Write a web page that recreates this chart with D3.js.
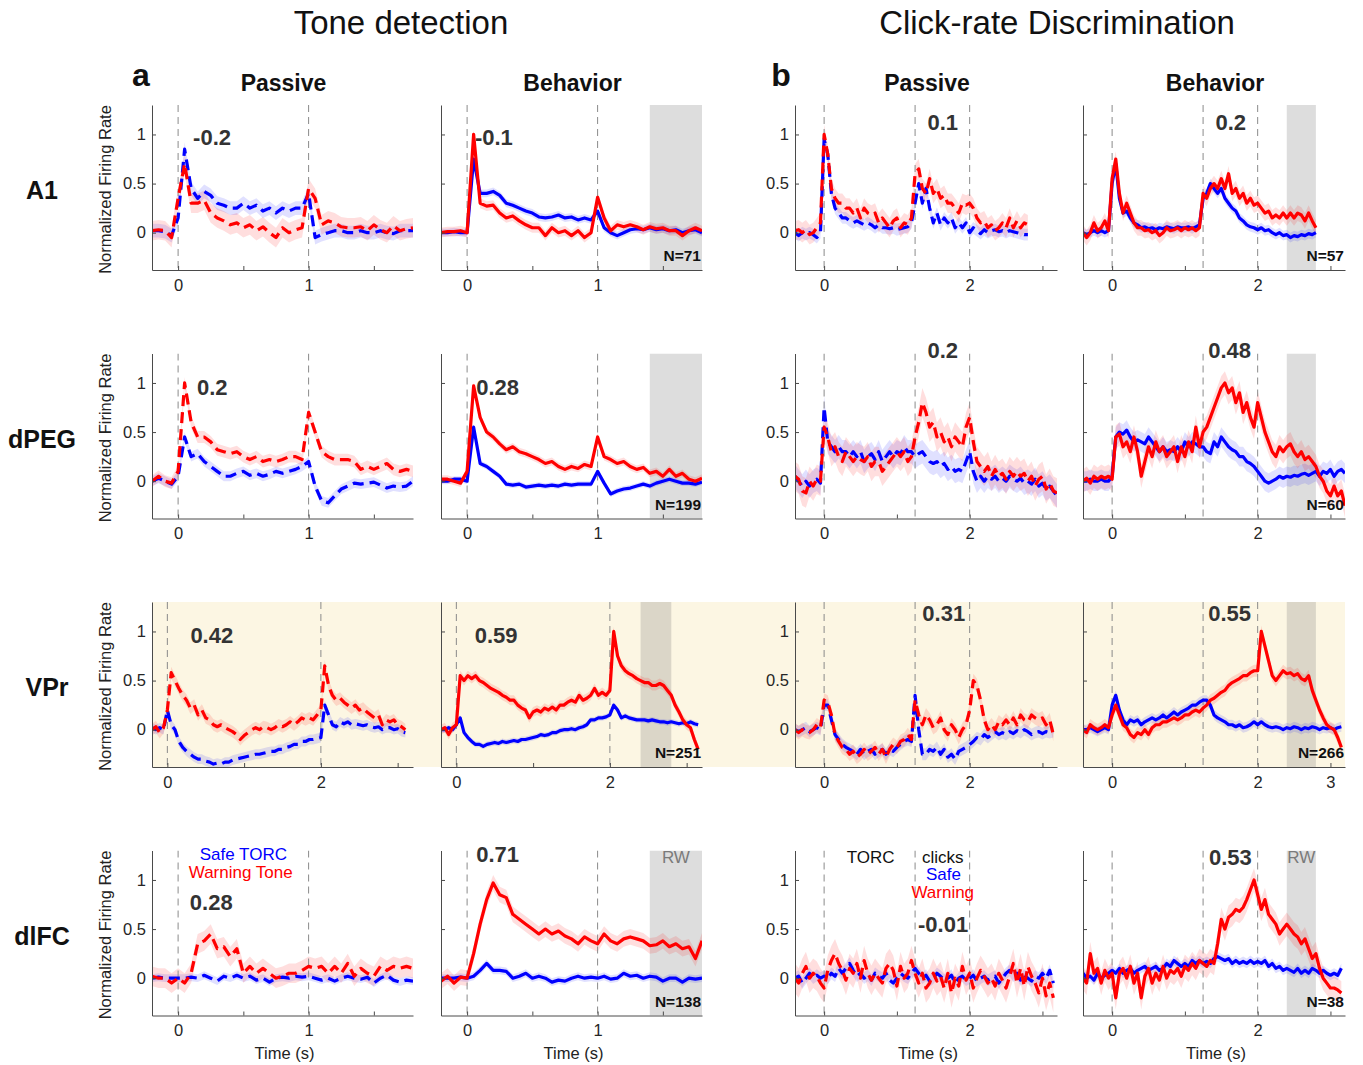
<!DOCTYPE html>
<html lang="en">
<head>
<meta charset="utf-8">
<title>Tone detection / Click-rate Discrimination</title>
<script src="https://cdn.jsdelivr.net/npm/d3@7/dist/d3.min.js"></script>
<style>
  body { margin: 0; background: #fff; }
  svg text { font-family: "Liberation Sans", Arial, Helvetica, sans-serif; }
</style>
</head>
<body>
<script>

// ---------------- data ----------------
var taskTitles = ["Tone detection", "Click-rate Discrimination"];
var panelLetters = ["a", "b"];
var areas = ["A1", "dPEG", "VPr", "dlFC"];
var conditions = ["Passive", "Behavior", "Passive", "Behavior"];
var indexValues = [
  ["-0.2", "-0.1", "0.1", "0.2"],
  ["0.2", "0.28", "0.2", "0.48"],
  ["0.42", "0.59", "0.31", "0.55"],
  ["0.28", "0.71", "-0.01", "0.53"]
];
var unitCounts = [["N=71", "N=57"], ["N=199", "N=60"], ["N=251", "N=266"], ["N=138", "N=38"]];

// time grid: first bin (s) per column, bin width 50 ms
var firstBin = [-0.2, -0.2, -0.4, -0.4];
var binWidth = 0.05;

// Tone detection, A1
var toneA1PassSafe = [0.02,0.02,0.01,-0.03,0.15,0.85,0.45,0.35,0.42,0.38,0.3,0.28,0.25,0.25,0.3,0.25,0.28,0.22,0.25,0.2,0.25,0.22,0.25,0.25,0.4,-0.05,-0.02,0.0,0.02,0.02,0.0,0.0,0.02,0.0,0.0,0.02,0.0,-0.01,0.02,0.02,0.02];
var toneA1PassWarn = [0.02,0.03,0.02,-0.05,0.35,0.7,0.3,0.3,0.33,0.2,0.15,0.12,0.08,0.1,0.05,0.08,0.02,0.06,0.0,-0.05,0.05,0.0,0.03,0.05,0.45,0.35,0.08,0.12,0.1,0.06,0.05,0.05,0.06,0.02,0.08,0.03,0.0,0.07,0.02,0.04,0.05];
var toneA1BehSafe = [0.0,0.0,0.01,0.0,0.0,0.75,0.4,0.4,0.42,0.38,0.3,0.28,0.25,0.22,0.2,0.16,0.15,0.16,0.18,0.15,0.16,0.13,0.15,0.13,0.22,0.05,0.0,-0.03,0.0,0.03,0.04,0.03,0.05,0.03,0.04,0.02,0.03,0.0,0.02,0.03,0.0];
var toneA1BehWarn = [0.0,0.01,0.01,0.02,0.0,1.0,0.3,0.27,0.28,0.2,0.15,0.17,0.12,0.08,0.05,0.05,-0.03,0.05,0.0,0.02,-0.03,0.02,-0.05,0.0,0.36,0.15,0.02,0.08,0.06,0.08,0.06,0.03,0.06,0.04,0.05,0.02,0.02,-0.03,0.02,0.05,0.02];

// Tone detection, dPEG
var toneDPEGPassSafe = [0.0,0.03,0.0,-0.03,0.05,0.45,0.25,0.28,0.2,0.15,0.1,0.05,0.05,0.08,0.1,0.06,0.08,0.05,0.07,0.1,0.08,0.1,0.12,0.15,0.2,-0.05,-0.2,-0.22,-0.15,-0.08,-0.05,-0.02,-0.03,-0.02,-0.01,-0.04,-0.07,-0.05,-0.06,-0.05,0.0];
var toneDPEGPassWarn = [0.0,0.05,0.0,-0.02,0.1,1.0,0.6,0.45,0.45,0.4,0.32,0.3,0.28,0.3,0.25,0.22,0.25,0.2,0.22,0.2,0.22,0.25,0.25,0.22,0.7,0.5,0.3,0.25,0.22,0.22,0.22,0.2,0.12,0.15,0.12,0.15,0.18,0.12,0.1,0.12,0.1];
var toneDPEGBehSafe = [0.0,0.0,0.02,0.02,0.0,0.55,0.18,0.15,0.1,0.05,-0.03,-0.04,-0.03,-0.06,-0.05,-0.04,-0.05,-0.04,-0.05,-0.03,-0.04,-0.03,-0.03,-0.03,0.1,-0.02,-0.13,-0.1,-0.08,-0.07,-0.05,-0.03,-0.05,-0.02,0.0,0.02,0.0,-0.02,-0.02,-0.03,-0.01];
var toneDPEGBehWarn = [0.02,0.02,0.0,-0.02,0.1,0.97,0.65,0.5,0.45,0.38,0.32,0.35,0.3,0.28,0.25,0.22,0.18,0.2,0.15,0.12,0.15,0.13,0.17,0.15,0.45,0.25,0.22,0.18,0.2,0.15,0.12,0.14,0.08,0.1,0.05,0.12,0.05,0.08,0.02,0.0,0.03];

// Tone detection, VPr (longer trials)
var toneVPrPassSafe = [0.02,0.0,0.02,0.0,0.2,0.05,0.0,-0.12,-0.18,-0.22,-0.25,-0.28,-0.3,-0.3,-0.32,-0.33,-0.35,-0.34,-0.35,-0.33,-0.33,-0.31,-0.3,-0.29,-0.28,-0.27,-0.26,-0.25,-0.25,-0.24,-0.23,-0.22,-0.22,-0.2,-0.2,-0.18,-0.17,-0.15,-0.15,-0.12,-0.12,-0.1,-0.1,-0.09,-0.08,0.25,0.15,0.05,0.03,0.08,0.06,0.08,0.05,0.06,0.05,0.04,0.05,0.03,0.02,0.03,0.0,0.02,0.02,0.0,0.01,-0.02,-0.03];
var toneVPrPassWarn = [0.0,0.03,-0.03,0.02,0.2,0.58,0.5,0.42,0.35,0.3,0.22,0.25,0.15,0.2,0.12,0.1,0.05,0.03,0.05,0.02,0.0,-0.02,-0.05,-0.1,-0.06,-0.03,0.0,0.02,0.0,0.03,0.02,0.0,0.02,0.05,0.03,0.05,0.08,0.05,0.08,0.12,0.1,0.12,0.1,0.15,0.2,0.65,0.45,0.35,0.3,0.32,0.28,0.25,0.22,0.25,0.2,0.22,0.18,0.15,0.12,0.15,0.05,0.1,0.08,0.1,0.05,0.03,0.0];
var toneVPrBehSafe = [0.0,0.0,0.02,0.0,0.05,0.12,-0.03,-0.08,-0.12,-0.15,-0.15,-0.17,-0.15,-0.14,-0.13,-0.14,-0.12,-0.13,-0.12,-0.11,-0.12,-0.1,-0.1,-0.09,-0.08,-0.07,-0.05,-0.06,-0.05,-0.03,-0.03,-0.01,0.0,0.0,0.01,0.0,0.02,0.03,0.05,0.1,0.1,0.12,0.12,0.13,0.15,0.25,0.2,0.12,0.14,0.12,0.11,0.1,0.1,0.1,0.09,0.1,0.09,0.08,0.08,0.07,0.08,0.07,0.06,0.07,0.06,0.08,0.06,0.05];
var toneVPrBehWarn = [0.0,0.02,-0.05,0.02,0.05,0.55,0.5,0.55,0.52,0.55,0.5,0.48,0.45,0.42,0.4,0.38,0.35,0.33,0.3,0.3,0.25,0.22,0.2,0.12,0.18,0.2,0.18,0.22,0.2,0.23,0.2,0.25,0.25,0.28,0.3,0.28,0.35,0.3,0.32,0.35,0.42,0.35,0.38,0.35,0.4,1.0,0.75,0.65,0.6,0.57,0.55,0.52,0.5,0.48,0.48,0.45,0.45,0.47,0.45,0.4,0.35,0.25,0.18,0.1,0.05,0.02,-0.1,-0.2];

// Tone detection, dlFC
var toneDLFCPassSafe = [0.0,0.01,0.0,0.0,0.0,0.0,0.01,0.0,0.03,0.0,-0.03,0.02,0.0,0.03,0.0,0.02,-0.02,0.0,-0.04,0.0,0.01,0.0,0.02,0.01,0.02,0.0,-0.02,0.0,-0.03,0.0,0.02,0.0,-0.01,0.01,-0.05,0.0,0.03,-0.02,-0.04,-0.02,-0.03];
var toneDLFCPassWarn = [0.02,0.0,0.0,-0.05,0.0,-0.05,0.05,0.35,0.38,0.45,0.3,0.32,0.22,0.3,0.05,0.12,0.05,0.1,0.05,0.0,0.02,0.05,0.05,0.08,0.12,0.1,0.12,0.05,0.12,0.05,0.15,0.02,0.1,0.05,0.02,0.12,0.08,0.12,0.1,0.12,0.1];
var toneDLFCBehSafe = [0.0,0.0,0.0,0.01,0.0,0.02,0.08,0.15,0.08,0.08,0.07,0.0,0.02,0.05,0.0,0.02,0.0,-0.04,-0.02,-0.03,0.0,0.02,0.0,0.01,0.0,0.02,-0.01,0.0,0.05,0.02,0.03,0.0,0.02,0.01,-0.03,0.0,0.0,-0.04,0.0,-0.01,0.0];
var toneDLFCBehWarn = [-0.03,0.02,-0.05,0.01,0.0,0.25,0.55,0.8,0.97,0.85,0.82,0.65,0.6,0.55,0.5,0.45,0.5,0.45,0.48,0.43,0.4,0.35,0.42,0.38,0.35,0.45,0.38,0.35,0.4,0.42,0.4,0.38,0.33,0.34,0.38,0.32,0.35,0.3,0.32,0.2,0.38];

// Click-rate discrimination, A1
var clickA1PassSafe = [0.0,-0.03,0.0,-0.02,0.0,-0.02,-0.05,0.0,
  0.95,0.8,0.4,0.25,0.2,0.15,0.15,0.12,0.1,0.12,0.1,0.08,0.1,0.08,0.05,0.08,0.05,0.05,0.04,0.05,
  0.03,0.04,0.05,0.06,0.1,0.3,0.5,0.3,0.45,0.25,0.1,0.2,0.08,0.15,0.1,0.15,0.05,0.1,0.05,0.1,
  0.0,0.05,0.02,-0.01,0.03,0.0,0.02,0.03,0.01,0.02,0.0,0.02,0.01,0.0,-0.01,-0.02,-0.02];
var clickA1PassWarn = [0.02,0.03,0.0,0.03,-0.02,0.0,0.05,0.1,
  1.0,0.8,0.45,0.35,0.3,0.3,0.25,0.25,0.2,0.25,0.15,0.25,0.2,0.18,0.2,0.1,0.15,0.1,0.05,0.12,
  0.15,0.05,0.1,0.08,0.15,0.6,0.65,0.45,0.4,0.55,0.4,0.45,0.35,0.38,0.3,0.3,0.25,0.2,0.3,0.28,
  0.3,0.25,0.15,0.1,0.12,0.05,0.08,0.02,0.05,0.1,0.05,0.15,0.05,0.12,0.05,0.1,0.08];
var clickA1BehSafe = [0.0,-0.02,0.0,0.02,0.0,0.02,0.0,0.02,
  0.5,0.7,0.35,0.2,0.22,0.15,0.1,0.08,0.05,0.06,0.04,0.05,0.03,0.05,0.04,0.06,0.05,0.04,0.06,0.05,
  0.05,0.06,0.04,0.06,0.08,0.35,0.4,0.5,0.45,0.4,0.45,0.35,0.3,0.25,0.22,0.15,0.12,0.08,0.06,0.05,
  0.03,0.05,0.02,0.03,0.0,-0.02,0.0,-0.03,-0.02,-0.05,-0.03,-0.04,-0.02,-0.03,-0.01,-0.02,0.0];
var clickA1BehWarn = [0.0,-0.05,0.0,0.1,0.02,0.05,0.12,0.02,
  0.55,0.75,0.4,0.2,0.3,0.2,0.1,0.05,0.05,0.02,0.03,0.0,0.02,-0.03,0.0,0.05,0.02,0.03,0.05,0.02,
  0.05,0.03,0.05,0.02,0.05,0.4,0.35,0.45,0.5,0.45,0.55,0.45,0.6,0.4,0.45,0.35,0.4,0.3,0.35,0.28,
  0.3,0.25,0.2,0.22,0.15,0.18,0.15,0.2,0.15,0.2,0.15,0.2,0.18,0.12,0.2,0.12,0.05];

// Click-rate discrimination, dPEG
var clickDPEGPassSafe = [0.05,0.0,-0.05,0.0,-0.05,0.0,0.02,-0.02,
  0.75,0.4,0.35,0.3,0.35,0.3,0.3,0.25,0.3,0.25,0.3,0.2,0.25,0.28,0.22,0.3,0.2,0.25,0.3,0.25,
  0.3,0.28,0.35,0.3,0.3,0.25,0.28,0.3,0.25,0.2,0.18,0.2,0.15,0.18,0.12,0.15,0.1,0.12,0.1,0.2,
  0.3,0.1,0.0,0.05,0.0,0.05,0.02,0.05,0.0,0.03,0.0,0.05,0.02,0.0,0.03,-0.02,0.0,-0.03,0.02,-0.05,-0.02,-0.08,-0.05,-0.1,-0.15];
var clickDPEGPassWarn = [0.05,0.02,-0.1,-0.12,0.0,-0.05,0.02,0.0,
  0.55,0.45,0.3,0.35,0.25,0.2,0.3,0.25,0.2,0.25,0.22,0.2,0.25,0.15,0.2,0.2,0.1,0.15,0.2,0.25,
  0.3,0.25,0.3,0.2,0.25,0.45,0.6,0.8,0.7,0.55,0.6,0.45,0.5,0.4,0.45,0.35,0.45,0.4,0.35,0.55,
  0.65,0.4,0.2,0.15,0.1,0.15,0.05,0.12,0.05,0.08,0.02,0.1,0.05,0.1,0.05,0.08,0.0,0.05,-0.05,0.02,0.05,-0.08,-0.02,-0.1,-0.12];
var clickDPEGBehSafe = [0.0,0.0,0.02,0.0,0.0,0.02,0.0,0.0,
  0.05,0.45,0.5,0.48,0.52,0.45,0.4,0.42,0.4,0.38,0.45,0.4,0.35,0.3,0.35,0.3,0.32,0.3,0.35,0.3,
  0.4,0.35,0.4,0.38,0.35,0.35,0.3,0.28,0.4,0.35,0.45,0.4,0.35,0.32,0.3,0.25,0.25,0.2,0.18,0.15,
  0.1,0.05,0.0,-0.02,0.0,0.02,0.05,0.03,0.05,0.04,0.06,0.05,0.07,0.08,0.06,0.08,0.1,0.05,0.1,0.08,0.12,0.05,0.1,0.12,0.08];
var clickDPEGBehWarn = [0.0,0.03,-0.02,0.05,0.02,0.05,0.03,0.05,
  0.02,0.45,0.48,0.35,0.4,0.3,0.45,0.3,0.05,0.2,0.35,0.25,0.4,0.3,0.35,0.25,0.3,0.35,0.2,0.35,
  0.25,0.4,0.3,0.55,0.35,0.5,0.55,0.65,0.75,0.85,0.95,1.0,0.9,0.95,0.8,0.9,0.7,0.8,0.65,0.55,
  0.8,0.65,0.5,0.4,0.3,0.25,0.35,0.3,0.35,0.38,0.3,0.25,0.3,0.22,0.25,0.2,0.15,0.05,0.0,-0.1,-0.15,-0.05,-0.15,-0.1,-0.25];

// Click-rate discrimination, VPr
var clickVPrPassSafe = [0.0,-0.02,0.0,0.02,-0.02,0.0,0.02,0.0,
  0.25,0.25,0.1,-0.05,-0.1,-0.15,-0.18,-0.2,-0.22,-0.25,-0.2,-0.25,-0.22,-0.2,-0.25,-0.22,-0.2,-0.25,-0.2,-0.22,
  -0.18,-0.15,-0.12,-0.1,-0.12,0.35,0.0,-0.25,-0.25,-0.2,-0.22,-0.18,-0.25,-0.2,-0.28,-0.25,-0.3,-0.22,-0.2,-0.18,
  -0.15,-0.12,-0.08,-0.1,-0.05,-0.08,-0.05,-0.02,-0.05,-0.03,-0.05,-0.02,-0.04,-0.01,-0.03,0.0,-0.02,-0.05,-0.03,-0.02,-0.04,-0.02,-0.03,-0.02];
var clickVPrPassWarn = [0.0,-0.03,0.0,-0.02,-0.03,0.0,0.05,0.02,
  0.3,0.28,0.15,-0.05,-0.12,-0.18,-0.2,-0.25,-0.22,-0.28,-0.25,-0.2,-0.25,-0.22,-0.18,-0.25,-0.2,-0.28,-0.2,-0.15,
  -0.18,-0.12,-0.1,-0.05,-0.1,0.3,0.15,0.05,0.15,0.1,0.02,0.05,0.12,0.0,-0.05,0.05,0.0,-0.08,0.0,0.05,
  0.2,0.5,0.45,0.3,0.1,0.0,0.05,0.0,0.08,0.05,0.1,0.05,0.12,0.05,0.15,0.1,0.08,0.15,0.12,0.1,0.12,0.05,0.1,-0.05];
var clickVPrBehSafe = [0.0,0.0,0.02,0.0,-0.02,0.0,0.02,0.0,
  0.25,0.35,0.2,0.1,0.05,0.1,0.08,0.1,0.05,0.08,0.1,0.12,0.1,0.12,0.15,0.12,0.15,0.18,0.15,0.18,
  0.2,0.22,0.25,0.25,0.28,0.3,0.3,0.25,0.15,0.12,0.1,0.08,0.05,0.05,0.03,0.05,0.02,0.03,0.05,0.08,
  0.05,0.08,0.05,0.03,0.02,0.03,0.02,0.0,0.02,0.01,0.03,0.02,0.0,0.02,0.01,0.03,0.02,0.0,0.02,0.01,0.02,0.0,0.02,0.03];
var clickVPrBehWarn = [0.0,-0.03,0.05,0.02,0.0,0.02,0.05,0.02,
  0.15,0.25,0.15,0.05,0.02,-0.05,-0.08,-0.03,-0.05,0.0,-0.05,0.02,0.05,0.05,0.08,0.08,0.1,0.12,0.1,0.12,
  0.15,0.15,0.18,0.2,0.18,0.22,0.25,0.3,0.32,0.35,0.38,0.4,0.45,0.48,0.5,0.52,0.55,0.55,0.58,0.6,
  0.6,1.0,0.85,0.7,0.55,0.5,0.55,0.6,0.57,0.58,0.55,0.57,0.52,0.5,0.55,0.4,0.3,0.2,0.12,0.05,0.02,0.0,-0.08,-0.18];

// Click-rate discrimination, dlFC
var clickDLFCPassSafe = [0.0,0.02,-0.05,0.0,0.05,0.0,0.03,0.0,
  0.02,0.0,0.05,0.02,0.1,0.05,0.1,0.15,0.08,0.02,0.05,0.0,0.03,-0.02,0.05,0.02,0.0,0.05,-0.02,-0.05,
  0.0,0.05,0.02,0.0,0.05,0.1,0.05,0.0,0.03,-0.03,0.0,0.05,0.02,-0.02,0.0,0.03,-0.05,0.0,0.02,-0.02,
  0.0,0.03,-0.03,0.0,0.02,-0.02,0.0,0.02,-0.05,0.0,0.05,0.08,0.02,0.05,-0.02,0.03,0.0,-0.03,0.02,0.0,0.05,0.0,0.08,-0.05];
var clickDLFCPassWarn = [0.0,-0.05,0.05,0.12,0.0,0.05,0.02,-0.05,
  -0.1,0.08,0.18,0.25,0.15,0.08,-0.02,0.1,0.05,0.15,0.0,0.18,0.05,-0.02,0.05,0.0,-0.05,0.1,0.15,0.08,
  -0.08,0.12,0.0,0.05,0.18,0.05,-0.05,0.05,-0.1,-0.05,0.05,-0.03,0.02,-0.1,0.05,-0.15,0.0,-0.08,0.12,-0.02,
  0.05,-0.1,0.0,0.08,0.02,-0.05,0.0,-0.08,0.05,-0.02,-0.1,0.02,0.15,-0.05,0.1,-0.08,0.12,0.02,-0.05,-0.15,0.0,-0.18,-0.05,-0.2];
var clickDLFCBehSafe = [0.05,0.0,0.02,-0.02,0.05,0.0,0.03,0.05,
  0.08,0.05,0.1,0.05,0.08,0.1,0.05,0.08,0.1,0.12,0.08,0.1,0.12,0.08,0.1,0.15,0.12,0.18,0.15,0.12,
  0.15,0.12,0.18,0.15,0.18,0.15,0.17,0.15,0.2,0.22,0.2,0.18,0.2,0.15,0.18,0.15,0.17,0.15,0.18,0.15,
  0.17,0.15,0.18,0.12,0.15,0.1,0.12,0.08,0.1,0.08,0.06,0.1,0.05,0.08,0.05,0.1,0.08,0.05,0.08,0.05,0.03,0.05,0.03,0.1];
var clickDLFCBehWarn = [0.0,-0.05,0.25,0.05,0.1,-0.05,0.08,0.0,
  0.05,-0.2,0.05,0.1,0.0,0.12,-0.05,0.05,-0.2,0.02,0.1,-0.05,0.05,-0.02,0.12,0.0,0.08,0.05,0.1,0.02,
  0.12,0.08,0.15,0.1,0.18,0.15,0.12,0.18,0.15,0.35,0.6,0.5,0.62,0.65,0.7,0.68,0.72,0.8,0.9,1.0,
  0.85,0.7,0.8,0.65,0.6,0.55,0.45,0.5,0.55,0.5,0.45,0.42,0.35,0.4,0.3,0.2,0.25,0.1,0.0,-0.05,-0.1,-0.1,-0.12,-0.15];

// s.e.m. half-widths of the shaded bands
var semSafe = [[0.07, 0.04, 0.06, 0.05], [0.05, 0.03, 0.12, 0.1], [0.05, 0.03, 0.06, 0.05], [0.04, 0.04, 0.06, 0.05]];
var semWarn = [[0.1, 0.05, 0.1, 0.08], [0.06, 0.04, 0.15, 0.12], [0.06, 0.05, 0.07, 0.06], [0.1, 0.08, 0.15, 0.12]];

var safeSeries = [
  [toneA1PassSafe, toneA1BehSafe, clickA1PassSafe, clickA1BehSafe],
  [toneDPEGPassSafe, toneDPEGBehSafe, clickDPEGPassSafe, clickDPEGBehSafe],
  [toneVPrPassSafe, toneVPrBehSafe, clickVPrPassSafe, clickVPrBehSafe],
  [toneDLFCPassSafe, toneDLFCBehSafe, clickDLFCPassSafe, clickDLFCBehSafe]
];
var warnSeries = [
  [toneA1PassWarn, toneA1BehWarn, clickA1PassWarn, clickA1BehWarn],
  [toneDPEGPassWarn, toneDPEGBehWarn, clickDPEGPassWarn, clickDPEGBehWarn],
  [toneVPrPassWarn, toneVPrBehWarn, clickVPrPassWarn, clickVPrBehWarn],
  [toneDLFCPassWarn, toneDLFCBehWarn, clickDLFCPassWarn, clickDLFCBehWarn]
];

// trial events (s)
var toneEvents = [0, 1];
var toneLongEvents = [0, 2];
var clickEvents = [0, 1.25, 2];
var toneWindow = [1.4, 1.8];
var longWindow = [2.4, 2.8];

// ---------------- layout ----------------
var W = 1363, H = 1065;
var colLeft = [152, 441, 795, 1083];
var colWidth = [261, 261, 262, 262];
var rowTop = [105, 353.5, 602, 850.5];
var plotH = 165;
var yDomain = [-0.38, 1.3];

// where the index numbers sit, in data units [t, v]
var scorePos = [
  [[0.115, 0.97], [0.06, 0.97], [1.42, 1.12], [1.42, 1.12]],
  [[0.145, 0.96], [0.07, 0.96], [1.42, 1.33], [1.32, 1.33]],
  [[0.3, 0.96], [0.24, 0.96], [1.35, 1.19], [1.32, 1.19]],
  [[0.09, 0.77], [0.07, 1.26], [1.29, 0.55], [1.33, 1.23]]
];

var blue = "#0000ff", red = "#ff0000";

var svg = d3.select("body").append("svg")
  .attr("width", W)
  .attr("height", H)
  .style("font-family", "'Liberation Sans', Arial, sans-serif");

// VPr row is highlighted across the whole figure
svg.append("rect")
  .attr("x", colLeft[0]).attr("y", rowTop[2])
  .attr("width", colLeft[3] + colWidth[3] - colLeft[0])
  .attr("height", plotH)
  .attr("fill", "#fcf6e3");

// titles
svg.selectAll(".task").data(taskTitles).enter().append("text")
  .attr("x", function(d, i) { return i === 0 ? 401 : 1057; })
  .attr("y", 34)
  .attr("text-anchor", "middle")
  .attr("font-size", "33px")
  .attr("fill", "#111")
  .text(function(d) { return d; });

svg.selectAll(".letter").data(panelLetters).enter().append("text")
  .attr("x", function(d, i) { return i === 0 ? 141 : 781; })
  .attr("y", 86)
  .attr("text-anchor", "middle")
  .attr("font-size", "32px")
  .attr("font-weight", "bold")
  .attr("fill", "#111")
  .text(function(d) { return d; });

svg.selectAll(".cond").data(conditions).enter().append("text")
  .attr("x", function(d, i) { return colLeft[i] + colWidth[i] / 2 + 1; })
  .attr("y", 91)
  .attr("text-anchor", "middle")
  .attr("font-size", "23px")
  .attr("font-weight", "bold")
  .attr("fill", "#111")
  .text(function(d) { return d; });

svg.selectAll(".area").data(areas).enter().append("text")
  .attr("x", function(d, i) { return i === 2 ? 47 : 42; })
  .attr("y", function(d, i) { return rowTop[i] + 85 + 9; })
  .attr("text-anchor", "middle")
  .attr("font-size", "25px")
  .attr("font-weight", "bold")
  .attr("fill", "#111")
  .text(function(d) { return d; });

var clipCount = 0;

for (var r = 0; r < 4; r++) {
  for (var c = 0; c < 4; c++) {
    drawPanel(r, c);
  }
}

function drawPanel(r, c) {
  var isClick = c >= 2;
  var isBehavior = c % 2 === 1;
  var longTone = !isClick && r === 2;
  var xDomain = isClick ? [-0.4, 3.2] : (longTone ? [-0.2, 3.2] : [-0.2, 1.8]);
  var left = colLeft[c], top = rowTop[r], w = colWidth[c];

  var x = d3.scaleLinear().domain(xDomain).range([left, left + w]);
  var y = d3.scaleLinear().domain(yDomain).range([top + plotH, top]);

  var g = svg.append("g");
  var clipId = "clip" + (clipCount++);
  g.append("clipPath").attr("id", clipId)
    .append("rect").attr("x", left).attr("y", top).attr("width", w).attr("height", plotH);

  var plot = g.append("g").attr("clip-path", "url(#" + clipId + ")");

  // response window
  if (isBehavior) {
    var win = (isClick || longTone) ? longWindow : toneWindow;
    plot.append("rect")
      .attr("x", x(win[0])).attr("y", top)
      .attr("width", x(win[1]) - x(win[0])).attr("height", plotH)
      .attr("fill", "#808080").attr("fill-opacity", 0.27);
  }

  function toPoints(vals, sem) {
    return vals.map(function(v, i) {
      return { t: firstBin[c] + i * binWidth, v: v, lo: v - sem, hi: v + sem };
    });
  }
  var safe = toPoints(safeSeries[r][c], semSafe[r][c]);
  var warn = toPoints(warnSeries[r][c], semWarn[r][c]);

  var band = d3.area()
    .x(function(d) { return x(d.t); })
    .y0(function(d) { return y(d.lo); })
    .y1(function(d) { return y(d.hi); });
  var line = d3.line()
    .x(function(d) { return x(d.t); })
    .y(function(d) { return y(d.v); });

  plot.append("path").attr("d", band(safe)).attr("fill", blue).attr("fill-opacity", 0.12);
  plot.append("path").attr("d", band(warn)).attr("fill", red).attr("fill-opacity", 0.13);

  // event markers
  var events = isClick ? clickEvents : (longTone ? toneLongEvents : toneEvents);
  plot.selectAll(".evt").data(events).enter().append("line")
    .attr("x1", function(d) { return x(d); })
    .attr("x2", function(d) { return x(d); })
    .attr("y1", top).attr("y2", top + plotH)
    .attr("stroke", "#8a8a8a")
    .attr("stroke-width", 1)
    .attr("stroke-dasharray", "7,5");

  var dash = isBehavior ? null : "11,6";
  plot.append("path").attr("d", line(safe))
    .attr("fill", "none").attr("stroke", blue).attr("stroke-width", 3.2)
    .attr("stroke-linejoin", "round")
    .attr("stroke-dasharray", dash);
  plot.append("path").attr("d", line(warn))
    .attr("fill", "none").attr("stroke", red).attr("stroke-width", 3.2)
    .attr("stroke-linejoin", "round")
    .attr("stroke-dasharray", dash);

  // axes (MATLAB style: ticks point inward)
  var showY = !isBehavior;
  var yAxis = d3.axisLeft(y)
    .tickValues([0, 0.5, 1])
    .tickSizeInner(-4).tickSizeOuter(0).tickPadding(6)
    .tickFormat(function(d) { return showY ? String(d) : ""; });
  var xTicks = isClick || longTone ? [0, 1, 2, 3] : [0, 0.5, 1, 1.5];
  var xLabels = isClick || longTone ? [0, 2] : [0, 1];
  if (isClick && isBehavior && r === 2) xLabels = [0, 2, 3];
  var xAxis = d3.axisBottom(x)
    .tickValues(xTicks)
    .tickSizeInner(-4).tickSizeOuter(0).tickPadding(9)
    .tickFormat(function(d) { return xLabels.indexOf(d) >= 0 ? String(d) : ""; });

  var gy = g.append("g").attr("transform", "translate(" + left + ",0)").call(yAxis);
  var gx = g.append("g").attr("transform", "translate(0," + (top + plotH) + ")").call(xAxis);
  [gy, gx].forEach(function(ax) {
    ax.select(".domain").attr("stroke", "#4a4a4a");
    ax.selectAll(".tick line").attr("stroke", "#4a4a4a");
    ax.selectAll(".tick text")
      .attr("fill", "#262626")
      .attr("font-size", "16.5px")
      .attr("font-family", "'Liberation Sans', Arial, sans-serif");
  });

  if (c === 0) {
    g.append("text")
      .attr("transform", "translate(111," + (top + plotH / 2 + 2) + ") rotate(-90)")
      .attr("text-anchor", "middle")
      .attr("font-size", "16.5px")
      .attr("fill", "#222")
      .text("Normalized Firing Rate");
  }
  if (r === 3) {
    g.append("text")
      .attr("x", left + w / 2 + 2)
      .attr("y", 1059)
      .attr("text-anchor", "middle")
      .attr("font-size", "16.5px")
      .attr("fill", "#222")
      .text("Time (s)");
  }

  // index value
  var sp = scorePos[r][c];
  g.append("text")
    .attr("x", x(sp[0]))
    .attr("y", y(sp[1]))
    .attr("dy", "0.35em")
    .attr("font-size", "22px")
    .attr("font-weight", "bold")
    .attr("fill", "#333")
    .text(indexValues[r][c]);

  if (isBehavior) {
    g.append("text")
      .attr("x", left + w - 1)
      .attr("y", y(-0.29))
      .attr("text-anchor", "end")
      .attr("font-size", "15.5px")
      .attr("font-weight", "bold")
      .attr("fill", "#111")
      .text(unitCounts[r][isClick ? 1 : 0]);
    if (r === 3) {
      var wn = isClick ? longWindow : toneWindow;
      g.append("text")
        .attr("x", x((wn[0] + wn[1]) / 2))
        .attr("y", y(1.23))
        .attr("dy", "0.35em")
        .attr("text-anchor", "middle")
        .attr("font-size", "17px")
        .attr("fill", "#7a7a7a")
        .text("RW");
    }
  }

  // legends
  if (r === 3 && c === 0) {
    var lg = [["Safe TORC", blue, 0.5, 1.26], ["Warning Tone", red, 0.48, 1.08]];
    lg.forEach(function(d) {
      g.append("text").attr("x", x(d[2])).attr("y", y(d[3])).attr("dy", "0.35em")
        .attr("text-anchor", "middle").attr("font-size", "17px").attr("fill", d[1]).text(d[0]);
    });
  }
  if (r === 3 && c === 2) {
    var lg2 = [["TORC", "#111", 0.64, 1.23], ["clicks", "#111", 1.63, 1.23],
               ["Safe", blue, 1.64, 1.06], ["Warning", red, 1.63, 0.88]];
    lg2.forEach(function(d) {
      g.append("text").attr("x", x(d[2])).attr("y", y(d[3])).attr("dy", "0.35em")
        .attr("text-anchor", "middle").attr("font-size", "17px").attr("fill", d[1]).text(d[0]);
    });
  }
}
</script>
</body>
</html>
